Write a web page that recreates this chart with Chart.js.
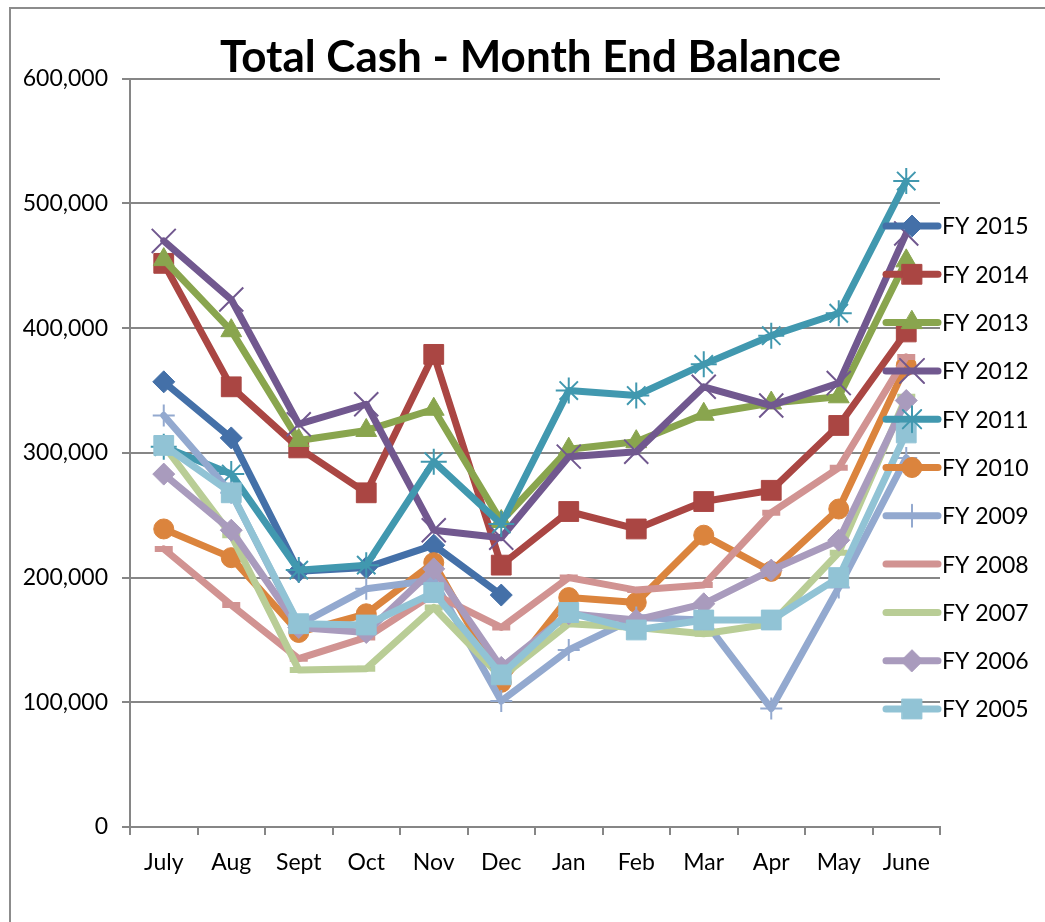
<!DOCTYPE html>
<html>
<head>
<meta charset="utf-8">
<title>Total Cash - Month End Balance</title>
<script src="https://cdn.jsdelivr.net/npm/chart.js@4.4.1/dist/chart.umd.min.js"></script>
<style>
    html, body { margin: 0; padding: 0; background: #fff; }
    #wrap { width: 1045px; height: 922px; position: relative; }
</style>
</head>
<body>
<div id="wrap"><canvas id="cashChart" width="1045" height="922"></canvas></div>
<script>
// months of the fiscal year
var months = ['July', 'Aug', 'Sept', 'Oct', 'Nov', 'Dec', 'Jan', 'Feb', 'Mar', 'Apr', 'May', 'June'];
var yTicks = [0, 100000, 200000, 300000, 400000, 500000, 600000];

// month end balances
var fy2015 = [357000, 312000, 205000, 208000, 226000, 186000, null, null, null, null, null, null];
var fy2014 = [452000, 353000, 304000, 268000, 379000, 210000, 253000, 239000, 261000, 270000, 322000, 397000];
var fy2013 = [455000, 398000, 310000, 318000, 335000, 245000, 303000, 309000, 331000, 340000, 345000, 454000];
var fy2012 = [470000, 423000, 323000, 339000, 238000, 232000, 297000, 301000, 353000, 338000, 356000, 476000];
var fy2011 = [305000, 283000, 206000, 210000, 293000, 243000, 350000, 346000, 371000, 394000, 412000, 518000];
var fy2010 = [239000, 216000, 156000, 171000, 212000, 116000, 184000, 180000, 234000, 205000, 255000, 370000];
var fy2009 = [330000, 268000, 162000, 191000, 198000, 101000, 142000, 168000, 166000, 95000, 192000, 296000];
var fy2008 = [223000, 178000, 135000, 152000, 187000, 160000, 200000, 190000, 194000, 252000, 288000, 377000];
var fy2007 = [306000, 234000, 126000, 127000, 176000, 120000, 163000, 160000, 155000, 163000, 220000, 345000];
var fy2006 = [283000, 238000, 160000, 156000, 207000, 128000, 171000, 166000, 179000, 206000, 230000, 342000];
var fy2005 = [306000, 268000, 163000, 162000, 188000, 122000, 172000, 158000, 166000, 166000, 200000, 316000];

var seriesNames = ['FY 2015', 'FY 2014', 'FY 2013', 'FY 2012', 'FY 2011', 'FY 2010', 'FY 2009', 'FY 2008', 'FY 2007', 'FY 2006', 'FY 2005'];
var seriesData = [fy2015, fy2014, fy2013, fy2012, fy2011, fy2010, fy2009, fy2008, fy2007, fy2006, fy2005];
var seriesColors = ['#4470A8', '#AA4643', '#89A54E', '#71588F', '#4198AF', '#DB843D', '#93A9CF', '#D19392', '#B9CD96', '#A99BBD', '#91C3D5'];
var seriesMarkers = ['rectRot', 'rect', 'triangle', 'crossRot', 'star', 'circle', 'cross', 'line', 'line', 'rectRot', 'rect'];
var markerSizes = [11, 14, 12, 17, 13, 10, 11, 9, 9, 11, 14];

var fontName = 'Lato, "Open Sans", sans-serif';

function buildDatasets() {
    var sets = [];
    for (var i = 0; i < seriesNames.length; i++) {
        var thin = seriesMarkers[i] == 'cross' || seriesMarkers[i] == 'crossRot' || seriesMarkers[i] == 'star';
        var dash = seriesMarkers[i] == 'line';
        sets.push({
            label: seriesNames[i],
            data: seriesData[i],
            borderColor: seriesColors[i],
            backgroundColor: seriesColors[i],
            borderWidth: 7,
            borderJoinStyle: 'round',
            borderCapStyle: 'round',
            tension: 0,
            spanGaps: false,
            pointStyle: seriesMarkers[i],
            pointRadius: markerSizes[i],
            pointHoverRadius: markerSizes[i],
            pointBorderColor: seriesColors[i],
            pointBackgroundColor: seriesColors[i],
            pointBorderWidth: thin ? 2 : (dash ? 6 : 1),
            order: seriesNames.length - i
        });
    }
    return sets;
}

// grey frame on the left and top, like the sheet border
var framePlugin = {
    id: 'frame',
    beforeDraw: function (chart) {
        var ctx = chart.ctx;
        ctx.save();
        ctx.fillStyle = '#ffffff';
        ctx.fillRect(0, 0, chart.width, chart.height);
        ctx.strokeStyle = '#8c8c8c';
        ctx.lineWidth = 2;
        ctx.beginPath();
        ctx.moveTo(10, chart.height);
        ctx.lineTo(10, 8);
        ctx.lineTo(chart.width, 8);
        ctx.stroke();
        ctx.restore();
    }
};

// legend drawn over the right side of the plot, as in the original
var sideLegend = {
    id: 'sideLegend',
    afterDraw: function (chart) {
        var ctx = chart.ctx;
        var sets = chart.data.datasets;
        var x0 = 886, x1 = 938, xm = 912, top = 226, gap = 48.3;
        ctx.save();
        for (var i = 0; i < sets.length; i++) {
            var ds = sets[i];
            var y = top + i * gap;
            ctx.strokeStyle = ds.borderColor;
            ctx.lineWidth = 7;
            ctx.lineCap = 'round';
            ctx.beginPath();
            ctx.moveTo(x0, y);
            ctx.lineTo(x1, y);
            ctx.stroke();
            if (ds.pointStyle != 'line' && Chart.helpers && Chart.helpers.drawPoint) {
                ctx.fillStyle = ds.pointBackgroundColor;
                ctx.strokeStyle = ds.pointBorderColor;
                ctx.lineWidth = ds.pointBorderWidth;
                Chart.helpers.drawPoint(ctx, {
                    pointStyle: ds.pointStyle,
                    radius: ds.pointRadius,
                    rotation: 0,
                    borderWidth: ds.pointBorderWidth
                }, xm, y);
            }
            ctx.fillStyle = '#000000';
            ctx.font = '23px ' + fontName;
            ctx.textAlign = 'left';
            ctx.textBaseline = 'middle';
            ctx.fillText(ds.label, 942, y + 1);
        }
        ctx.restore();
    }
};

var ctx = document.getElementById('cashChart').getContext('2d');
var cashChart = new Chart(ctx, {
    type: 'line',
    data: {
        labels: months,
        datasets: buildDatasets()
    },
    options: {
        responsive: false,
        animation: false,
        layout: {
            padding: { left: 16, right: 0, top: 0, bottom: 0 }
        },
        plugins: {
            legend: { display: false },
            tooltip: { enabled: false },
            title: {
                display: true,
                text: 'Total Cash - Month End Balance',
                color: '#000000',
                font: { family: fontName, size: 44, weight: 'bold', lineHeight: 0.95 },
                padding: { top: 37, bottom: 0 }
            }
        },
        scales: {
            x: {
                offset: true,
                grid: {
                    offset: true,
                    drawOnChartArea: false,
                    drawTicks: true,
                    tickLength: 8,
                    color: '#868686',
                    lineWidth: 2
                },
                border: { display: true, color: '#868686', width: 2 },
                ticks: {
                    color: '#000000',
                    padding: 14,
                    maxRotation: 0,
                    autoSkip: false,
                    font: { family: fontName, size: 23 }
                },
                afterFit: function (scale) {
                    scale.height = 95;
                }
            },
            y: {
                min: 0,
                max: 600000,
                afterBuildTicks: function (scale) {
                    scale.ticks = yTicks.map(function (v) { return { value: v }; });
                },
                grid: {
                    color: '#868686',
                    lineWidth: 2,
                    tickLength: 8
                },
                border: { display: true, color: '#868686', width: 2 },
                ticks: {
                    color: '#000000',
                    padding: 14,
                    font: { family: fontName, size: 23 },
                    callback: function (value) {
                        return Number(value).toLocaleString('en-US');
                    }
                },
                afterFit: function (scale) {
                    scale.width = 114;
                }
            },
            // empty axis on the right, only keeps room where the legend sits
            yRoom: {
                position: 'right',
                grid: { display: false },
                border: { display: false },
                ticks: { display: false },
                afterFit: function (scale) {
                    scale.width = 105;
                }
            }
        }
    },
    plugins: [framePlugin, sideLegend]
});
</script>
</body>
</html>
